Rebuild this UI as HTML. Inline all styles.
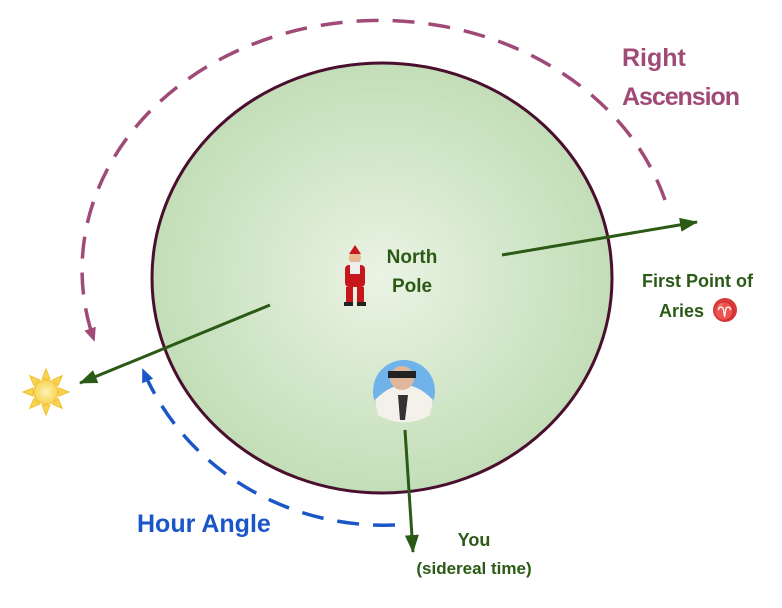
<!DOCTYPE html>
<html><head><meta charset="utf-8"><style>
html,body{margin:0;padding:0;background:#fff;}
svg{display:block}
text{font-family:"Liberation Sans",sans-serif;font-weight:bold;}
</style></head><body>
<svg width="782" height="608" viewBox="0 0 782 608" xmlns="http://www.w3.org/2000/svg">
<defs>
<radialGradient id="g" cx="0.5" cy="0.5" r="0.5">
<stop offset="0" stop-color="#eaf3e4"/><stop offset="1" stop-color="#c2deb7"/>
</radialGradient>
<radialGradient id="sun" cx="0.5" cy="0.5" r="0.5">
<stop offset="0" stop-color="#fdf0b8"/><stop offset="1" stop-color="#f8d552"/>
</radialGradient>
<marker id="ag" markerWidth="18" markerHeight="14" refX="17" refY="7" orient="auto" markerUnits="userSpaceOnUse" viewBox="0 0 18 14">
<path d="M0,0 L18,7 L0,14 z" fill="#2b5a16"/></marker>
<marker id="ap" markerWidth="14" markerHeight="12" refX="12" refY="6" orient="auto" markerUnits="userSpaceOnUse" viewBox="0 0 14 12">
<path d="M0,0 L14,6 L0,12 z" fill="#a04a77"/></marker>
<marker id="ab" markerWidth="14" markerHeight="12" refX="12" refY="6" orient="auto" markerUnits="userSpaceOnUse" viewBox="0 0 14 12">
<path d="M0,0 L14,6 L0,12 z" fill="#1a56c8"/></marker>
</defs>
<ellipse cx="382" cy="278" rx="230" ry="215" fill="url(#g)" stroke="#4a0f2e" stroke-width="3"/>
<path d="M665,200 A292,245 0 1 0 94,340" fill="none" stroke="#a04a77" stroke-width="3.5" stroke-dasharray="22,14" marker-end="url(#ap)"/>
<path d="M395,525 A260,248 0 0 1 143,370" fill="none" stroke="#1a56c8" stroke-width="3.5" stroke-dasharray="22,14" marker-end="url(#ab)"/>
<g stroke="#2b5a16" stroke-width="3">
<line x1="270" y1="305" x2="80" y2="383" marker-end="url(#ag)"/>
<line x1="502" y1="255" x2="697" y2="222" marker-end="url(#ag)"/>
<line x1="405" y1="430" x2="413" y2="552" marker-end="url(#ag)"/>
</g>
<g transform="translate(46,392)" fill="#f8d552" stroke="#f0c030" stroke-width="1">
<g id="ray"><path d="M-4,-13 L0,-23 L4,-13 z"/></g>
<use href="#ray" transform="rotate(45)"/><use href="#ray" transform="rotate(90)"/><use href="#ray" transform="rotate(135)"/>
<use href="#ray" transform="rotate(180)"/><use href="#ray" transform="rotate(225)"/><use href="#ray" transform="rotate(270)"/><use href="#ray" transform="rotate(315)"/>
<circle r="12" fill="url(#sun)"/>
</g>
<g transform="translate(355,278)">
<circle cx="0" cy="-20" r="6" fill="#e8b890"/>
<path d="M-6,-24 L0,-33 L6,-24 z" fill="#c8171c"/>
<rect x="-10" y="-13" width="20" height="22" rx="4" fill="#c8171c"/>
<rect x="-5" y="-16" width="10" height="12" fill="#eee"/>
<rect x="-9" y="9" width="7" height="15" fill="#c8171c"/><rect x="2" y="9" width="7" height="15" fill="#c8171c"/>
<rect x="-11" y="24" width="9" height="4" fill="#222"/><rect x="2" y="24" width="9" height="4" fill="#222"/>
</g>
<circle cx="404" cy="391" r="31" fill="#6fb3ea"/>
<path d="M375,400 Q404,370 433,400 L430,415 Q404,430 378,415 z" fill="#f4f0ea"/>
<circle cx="402" cy="378" r="12" fill="#e0b79a"/>
<rect x="388" y="371" width="28" height="7" fill="#222"/>
<path d="M398,395 L408,395 L405,420 L400,420 z" fill="#333"/>
<text x="412" y="263" font-size="19" fill="#2b5a16" text-anchor="middle">North</text>
<text x="412" y="292" font-size="19" fill="#2b5a16" text-anchor="middle">Pole</text>
<text x="622" y="66" font-size="25" fill="#a04a77">Right</text>
<text x="622" y="105" font-size="25" fill="#a04a77" textLength="118">Ascension</text>
<text x="642" y="287" font-size="18" fill="#2b5a16">First Point of</text>
<text x="659" y="317" font-size="18" fill="#2b5a16">Aries</text>
<circle cx="725" cy="310" r="12" fill="#d83a3a"/>
<text x="725" y="317" font-size="17" fill="#fff" text-anchor="middle">♈</text>
<text x="137" y="532" font-size="25" fill="#1a56c8">Hour Angle</text>
<text x="474" y="546" font-size="18" fill="#2b5a16" text-anchor="middle">You</text>
<text x="474" y="574" font-size="17" fill="#2b5a16" text-anchor="middle">(sidereal time)</text>
</svg>
</body></html>
